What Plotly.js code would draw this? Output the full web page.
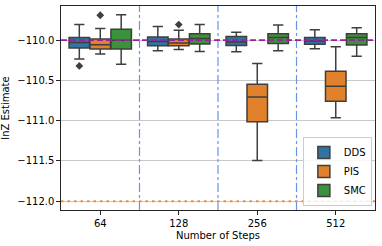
<!DOCTYPE html>
<html>
<head>
<meta charset="utf-8">
<script src="https://cdn.plot.ly/plotly-3.0.1.min.js"></script>
<style>html,body{margin:0;padding:0;background:#fff;}#chart{width:382px;height:246px;}</style>
</head>
<body>
<div id="chart"></div>
<script>
const categories = ['64', '128', '256', '512'];
const methods = ['DDS', 'PIS', 'SMC'];
const colors = ['#3274a1', '#e1812c', '#3a923a'];

// per method, per category stats
const q1 = {
  DDS: [-110.098, -110.069, -110.065, -110.050],
  PIS: [-110.110, -110.069, -111.012, -110.760],
  SMC: [-110.110, -110.048, -110.040, -110.060]
};
const median = {
  DDS: [-110.028, -110.015, -110.023, -110.010],
  PIS: [-110.056, -110.035, -110.706, -110.572],
  SMC: [-110.000, -109.980, -109.965, -109.965]
};
const q3 = {
  DDS: [-109.965, -109.960, -109.953, -109.965],
  PIS: [-109.985, -109.985, -110.547, -110.385],
  SMC: [-109.865, -109.920, -109.920, -109.920]
};
const lowerWhisker = {
  DDS: [-110.235, -110.130, -110.144, -110.106],
  PIS: [-110.173, -110.115, -111.494, -110.965],
  SMC: [-110.300, -110.140, -110.130, -110.200]
};
const upperWhisker = {
  DDS: [-109.806, -109.830, -109.900, -109.870],
  PIS: [-109.856, -109.877, -110.290, -110.081],
  SMC: [-109.685, -109.806, -109.810, -109.844]
};
const outliers = {
  DDS: [[-110.32], [], [], []],
  PIS: [[-109.69], [-109.806], [], []],
  SMC: [[], [], [], []]
};

const referenceLnZ = -110.0;
const lowerBound = -112.0;
const separators = [0.5, 1.5, 2.5];
const yTickVals = [-110.0, -110.5, -111.0, -111.5, -112.0];
const yTickText = ['\u2212110.0', '\u2212110.5', '\u2212111.0', '\u2212111.5', '\u2212112.0'];

const traces = methods.map((m, k) => {
  const hasOutliers = outliers[m].some(a => a.length > 0);
  const t = {
    type: 'box',
    name: m,
    x: categories,
    q1: q1[m],
    median: median[m],
    q3: q3[m],
    lowerfence: lowerWhisker[m],
    upperfence: upperWhisker[m],
    fillcolor: colors[k],
    line: {color: '#3f3f3f', width: 1.5},
    marker: {symbol: 'diamond', color: '#3f3f3f', size: 6, line: {width: 0}},
    whiskerwidth: 0.5,
    hoverinfo: 'skip'
  };
  if (hasOutliers) {
    t.y = outliers[m];
    t.boxpoints = 'outliers';
    t.pointpos = 0;
    t.jitter = 0;
  } else {
    t.boxpoints = false;
  }
  return t;
});

const shapes = [];
separators.forEach(s => shapes.push({
  type: 'line', xref: 'x', yref: 'paper', x0: s, x1: s, y0: 0, y1: 1,
  line: {color: '#6495ED', width: 1.2, dash: 'dashdot'}, layer: 'above'
}));
shapes.push({
  type: 'line', xref: 'paper', yref: 'y', x0: 0, x1: 1, y0: referenceLnZ, y1: referenceLnZ,
  line: {color: '#9b1fa3', width: 1.8, dash: '6px,3px'}, layer: 'above'
});
shapes.push({
  type: 'line', xref: 'paper', yref: 'y', x0: 0, x1: 1, y0: lowerBound, y1: lowerBound,
  line: {color: '#e69040', width: 2, dash: '2.5px,4px'}, layer: 'above'
});

const layout = {
  width: 382, height: 246,
  margin: {l: 61, r: 7, t: 6, b: 36},
  paper_bgcolor: '#fff', plot_bgcolor: '#fff',
  font: {family: 'DejaVu Sans', size: 10, color: '#000'},
  boxmode: 'group',
  boxgap: 0.2,
  boxgroupgap: 0.02,
  showlegend: true,
  legend: {
    x: 0.99, y: 0.02, xanchor: 'right', yanchor: 'bottom',
    bgcolor: 'rgba(255,255,255,0.85)', bordercolor: '#cccccc', borderwidth: 1,
    font: {size: 10}, tracegroupgap: 0, itemwidth: 30
  },
  xaxis: {
    type: 'category',
    categoryorder: 'array', categoryarray: categories,
    range: [-0.5, 3.5],
    title: {text: 'Number of Steps', font: {size: 10}, standoff: 4},
    showline: true, linecolor: '#262626', linewidth: 1.2, mirror: true,
    ticks: 'outside', ticklen: 3.5, tickcolor: '#262626',
    showgrid: false, zeroline: false
  },
  yaxis: {
    range: [-112.11, -109.575],
    tickvals: yTickVals, ticktext: yTickText,
    title: {text: 'lnZ Estimate', font: {size: 10}, standoff: 8},
    showline: true, linecolor: '#262626', linewidth: 1.2, mirror: true,
    ticks: 'outside', ticklen: 3.5, tickcolor: '#262626',
    showgrid: true, gridcolor: '#c8c8c8', gridwidth: 1, zeroline: false
  },
  shapes: shapes
};

Plotly.newPlot('chart', traces, layout, {displayModeBar: false, staticPlot: true});
</script>
</body>
</html>
